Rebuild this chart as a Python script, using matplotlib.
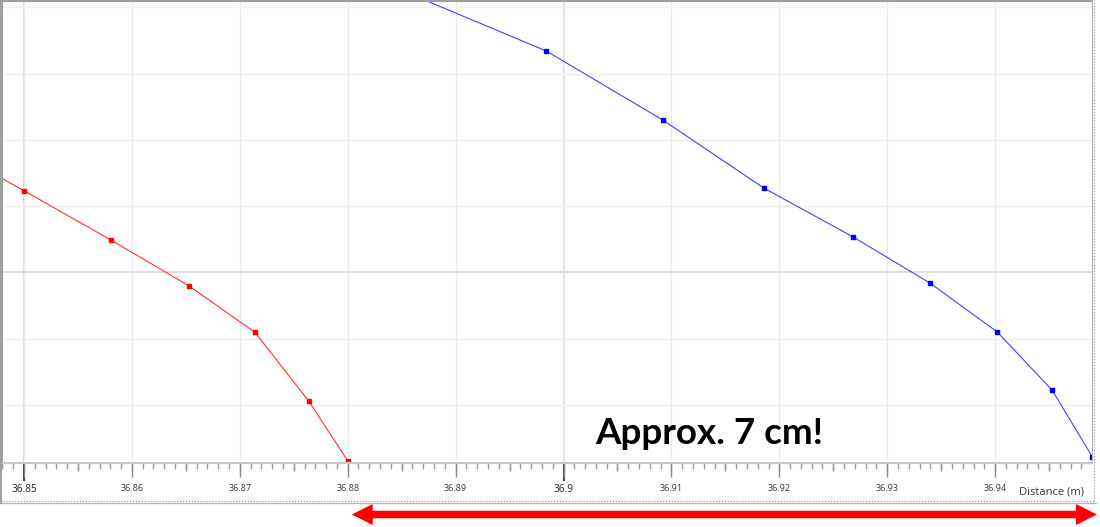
import matplotlib.pyplot as plt
from matplotlib.ticker import MultipleLocator, FuncFormatter
from matplotlib.patches import FancyArrow
from matplotlib.lines import Line2D

# profile data (x in metres, y arbitrary units)
red_x = [36.84268, 36.8500, 36.8581, 36.8653, 36.8714, 36.8764, 36.8800]
red_y = [1.3786, 1.2468, 1.0971, 0.9593, 0.8196, 0.6115, 0.4323]

blue_x = [36.87651, 36.8984, 36.9092, 36.9186, 36.9268, 36.9340, 36.9402,
          36.9453, 36.9490, 36.95204]
blue_y = [1.9668, 1.6682, 1.4600, 1.2540, 1.1080, 0.9674, 0.8205,
          0.6446, 0.4443, 0.2534]

x_limits = (36.84796, 36.94898)
y_limits = (0.4262, 1.819)

W, H = 1100, 527
fig = plt.figure(figsize=(W / 100, H / 100), dpi=100)
ax = fig.add_axes([2 / W, (H - 462.7) / H, 1090 / W, 461.7 / H])

ax.plot(red_x, red_y, color='#ff3030', lw=0.8, marker='s', markersize=2.4,
        markerfacecolor='#ff0000', markeredgecolor='#ff0000')
ax.plot(blue_x, blue_y, color='#4040ff', lw=0.8, marker='s', markersize=2.4,
        markerfacecolor='#0000ff', markeredgecolor='#0000ff')

ax.set_xlim(*x_limits)
ax.set_ylim(*y_limits)

ax.xaxis.set_major_locator(MultipleLocator(0.01))
ax.xaxis.set_minor_locator(MultipleLocator(0.001))
ax.xaxis.set_major_formatter(FuncFormatter(lambda v, p: f"{v:.2f}".rstrip('0')))
ax.yaxis.set_major_locator(MultipleLocator(1.0))
ax.yaxis.set_minor_locator(MultipleLocator(0.2))

ax.set_axisbelow(True)
ax.grid(axis='x', which='major', color='#ebebeb', lw=1)
ax.grid(axis='y', which='major', color='#d8d8d8', lw=1.2)
ax.grid(axis='y', which='minor', color='#efefef', lw=1)
for v in MultipleLocator(0.05).tick_values(*x_limits):
    if x_limits[0] < v < x_limits[1]:
        ax.axvline(v, color='#d4d4d4', lw=1.2, zorder=0)

ax.tick_params(axis='y', which='both', left=False, labelleft=False)
ax.tick_params(axis='x', which='major', length=10, width=1, color='#8a8a8a',
               labelsize=6.5, labelcolor='#383838', pad=5)
ax.tick_params(axis='x', which='minor', length=4, width=1, color='#9a9a9a')
for lab in ax.xaxis.get_majorticklabels():
    lab.set_family('Open Sans')

# half-centimetre ticks and the every-5 cm ticks
sec = ax.secondary_xaxis('bottom')
sec.xaxis.set_major_locator(MultipleLocator(0.005))
sec.tick_params(length=6, width=1, color='#8a8a8a', labelbottom=False)
sec.spines['bottom'].set_visible(False)
sec2 = ax.secondary_xaxis('bottom')
sec2.xaxis.set_major_locator(MultipleLocator(0.05))
sec2.tick_params(length=13, width=1.4, color='#404040', labelbottom=False)
sec2.spines['bottom'].set_visible(False)

for loc, lab in zip(ax.get_xticks(), ax.get_xticklabels()):
    if abs(loc / 0.05 - round(loc / 0.05)) < 1e-6:
        lab.set_fontsize(7.2)
        lab.set_color('#202020')

ax.spines['left'].set_color('#a0a0a0')
ax.spines['left'].set_linewidth(1.5)
ax.spines['top'].set_color('#a0a0a0')
ax.spines['top'].set_linewidth(1.5)
ax.spines['right'].set_color('#b0b0b0')
ax.spines['bottom'].set_color('#c8c8c8')
ax.spines['bottom'].set_linewidth(1.5)

fig.text(1084 / W, (H - 492) / H, 'Distance (m)', ha='right', va='center',
         fontsize=8, color='#383838', family='Open Sans')

# outer chart frame
fig.add_artist(Line2D([0, 1094 / W], [(H - 500.7) / H] * 2, transform=fig.transFigure,
                      ls=':', color='#909090', lw=0.8))
fig.add_artist(Line2D([0, 1096 / W], [(H - 503.3) / H] * 2, transform=fig.transFigure,
                      color='#b8b8b8', lw=1))
fig.add_artist(Line2D([1094 / W] * 2, [(H - 500.7) / H, 1], transform=fig.transFigure,
                      ls=':', color='#909090', lw=0.8))
fig.add_artist(Line2D([1.2 / W] * 2, [(H - 503.3) / H, 1], transform=fig.transFigure,
                      color='#a0a0a0', lw=1.5))

fig.text(709 / W, (H - 434) / H, 'Approx. 7 cm!', ha='center', va='center',
         fontsize=26.5, fontweight='bold', family='Lato', color='black')

# double-headed red arrow under the chart: one long arrow plus a short left head
left_tip, right_tip, arrow_y = 351.7 / 100, 1097 / 100, (H - 514.5) / 100
head = 0.21
for start, end in ((left_tip + head + 0.03, left_tip), (left_tip + head, right_tip)):
    fig.patches.append(FancyArrow(start, arrow_y, end - start, 0, width=0.075,
                                  head_width=0.21, head_length=head,
                                  length_includes_head=True, color='#ff0000', lw=0,
                                  transform=fig.dpi_scale_trans, figure=fig))

fig.savefig('out.png', dpi=100)
